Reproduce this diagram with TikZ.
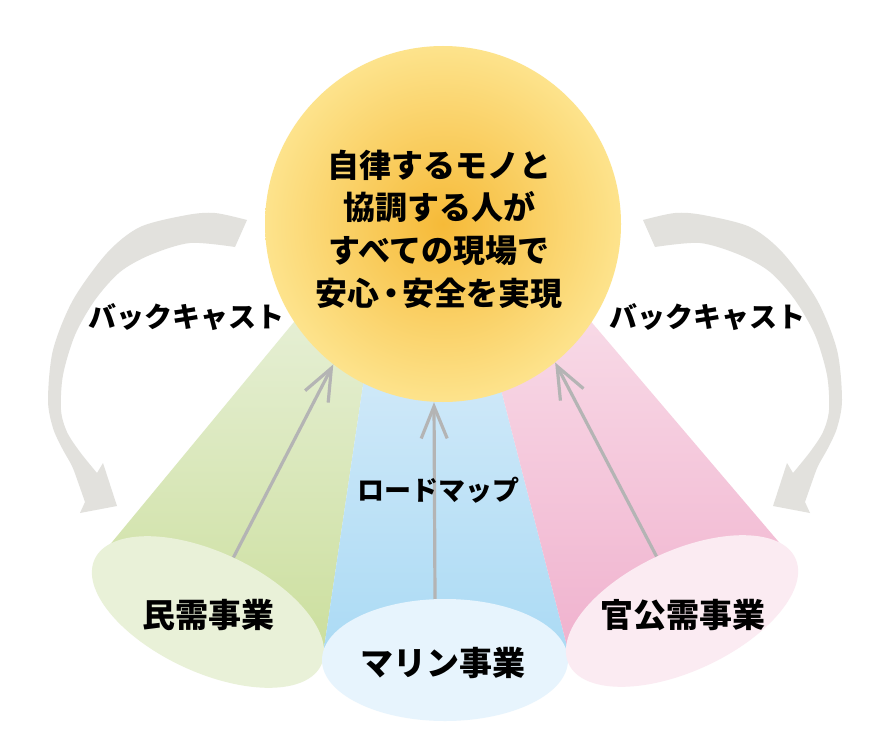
\documentclass[tikz,border=0pt]{standalone}
\usepackage{fontspec}
\newfontfamily\jp{Noto Sans CJK JP}
\usetikzlibrary{arrows.meta,shapes.geometric}
\definecolor{bandgray}{RGB}{226,225,221}
\definecolor{arrgray}{RGB}{180,180,180}
\definecolor{greenT}{RGB}{236,243,226}
\definecolor{greenB}{RGB}{204,223,158}
\definecolor{blueT}{RGB}{226,240,251}
\definecolor{blueB}{RGB}{170,218,244}
\definecolor{pinkT}{RGB}{250,228,237}
\definecolor{pinkB}{RGB}{240,178,206}
\definecolor{greenE}{RGB}{233,241,216}
\definecolor{blueE}{RGB}{231,244,253}
\definecolor{pinkE}{RGB}{251,235,242}
\definecolor{sunIn}{RGB}{246,186,56}
\definecolor{sunOut}{RGB}{253,227,140}
\tikzset{
  arr/.style={draw=arrgray, line width=3.2pt, -{Straight Barb[length=32pt,width=26pt]}},
  bizell/.style={ellipse, minimum width=250pt, minimum height=120pt, inner sep=0pt, draw=none},
  lbl/.style={font=\jp\bfseries\fontsize{33}{40}\selectfont, text=black, inner sep=0pt},
  bclbl/.style={font=\jp\bfseries\fontsize{28}{34}\selectfont, text=black, inner sep=0pt},
  backband/.style={fill=bandgray, draw=none}
}
\begin{document}
\begin{tikzpicture}[x=1pt,y=-1pt]
\useasboundingbox (0,0) rectangle (896,749);
\fill[white] (0,0) rectangle (896,749);

% beams
\shade[top color=greenT, bottom color=greenB] (108,547) -- (370,230) -- (386,230) -- (324,648) -- (208,612) -- cycle;
\shade[top color=blueT, bottom color=blueB] (324,648) -- (386,230) -- (460,230) -- (568,650) -- (445,660) -- cycle;
\shade[top color=pinkT, bottom color=pinkB] (568,650) -- (460,230) -- (513,230) -- (783,547) -- (682,611) -- cycle;

% back-cast arrows
\def\bandpath{plot[smooth] coordinates {(247,220) (215,213) (187,215) (140,227) (107,253) (73,300) (53,350) (48,400) (53,428) (62,448) (72,466) (78,482) (85,502)} -- (80,513) -- (117,506) -- (103,463) -- plot[smooth] coordinates {(97,473) (80,452) (67,432) (61,410) (63,375) (75,335) (95,300) (120,272) (150,255) (190,243) (235,247)} -- cycle}
\fill[backband] \bandpath;
\begin{scope}[shift={(890,0)}, xscale=-1]
\fill[backband] \bandpath;
\end{scope}

% business ellipses
\node[bizell, fill=greenE, rotate=-25] (min) at (208,612) {};
\node[bizell, fill=blueE, minimum width=246pt, minimum height=122pt] (mar) at (445,660) {};
\node[bizell, fill=pinkE, rotate=25] (kan) at (682,611) {};

% central circle
\node[circle, minimum size=356pt, inner sep=0pt, shade, inner color=sunIn, outer color=sunOut] (sun) at (443,224) {};

% roadmap arrows
\draw[arr] (min.north) -- (sun.232);
\draw[arr] ([xshift=-10pt]mar.north) -- ([xshift=-9pt]sun.south);
\draw[arr] (kan.north) -- (sun.309);

% texts
\node[font=\jp\bfseries\fontsize{32}{42.7}\selectfont, align=center, inner sep=0pt] (goal) at (439,229) {自律するモノと\\協調する人が\\すべての現場で\\安心\kern-0.14em・\kern-0.14em 安全を実現};
\node[bclbl] (bcL) at (186,317) {バックキャスト};
\node[bclbl] (bcR) at (707,317) {バックキャスト};
\node[font=\jp\bfseries\fontsize{27}{32}\selectfont, inner sep=0pt] (road) at (438,490) {ロードマップ};
\node[lbl] (minT) at (208,615) {民需事業};
\node[lbl] (marT) at (443,663) {マリン事業};
\node[lbl] (kanT) at (683,615) {官公需事業};
\end{tikzpicture}
\end{document}
